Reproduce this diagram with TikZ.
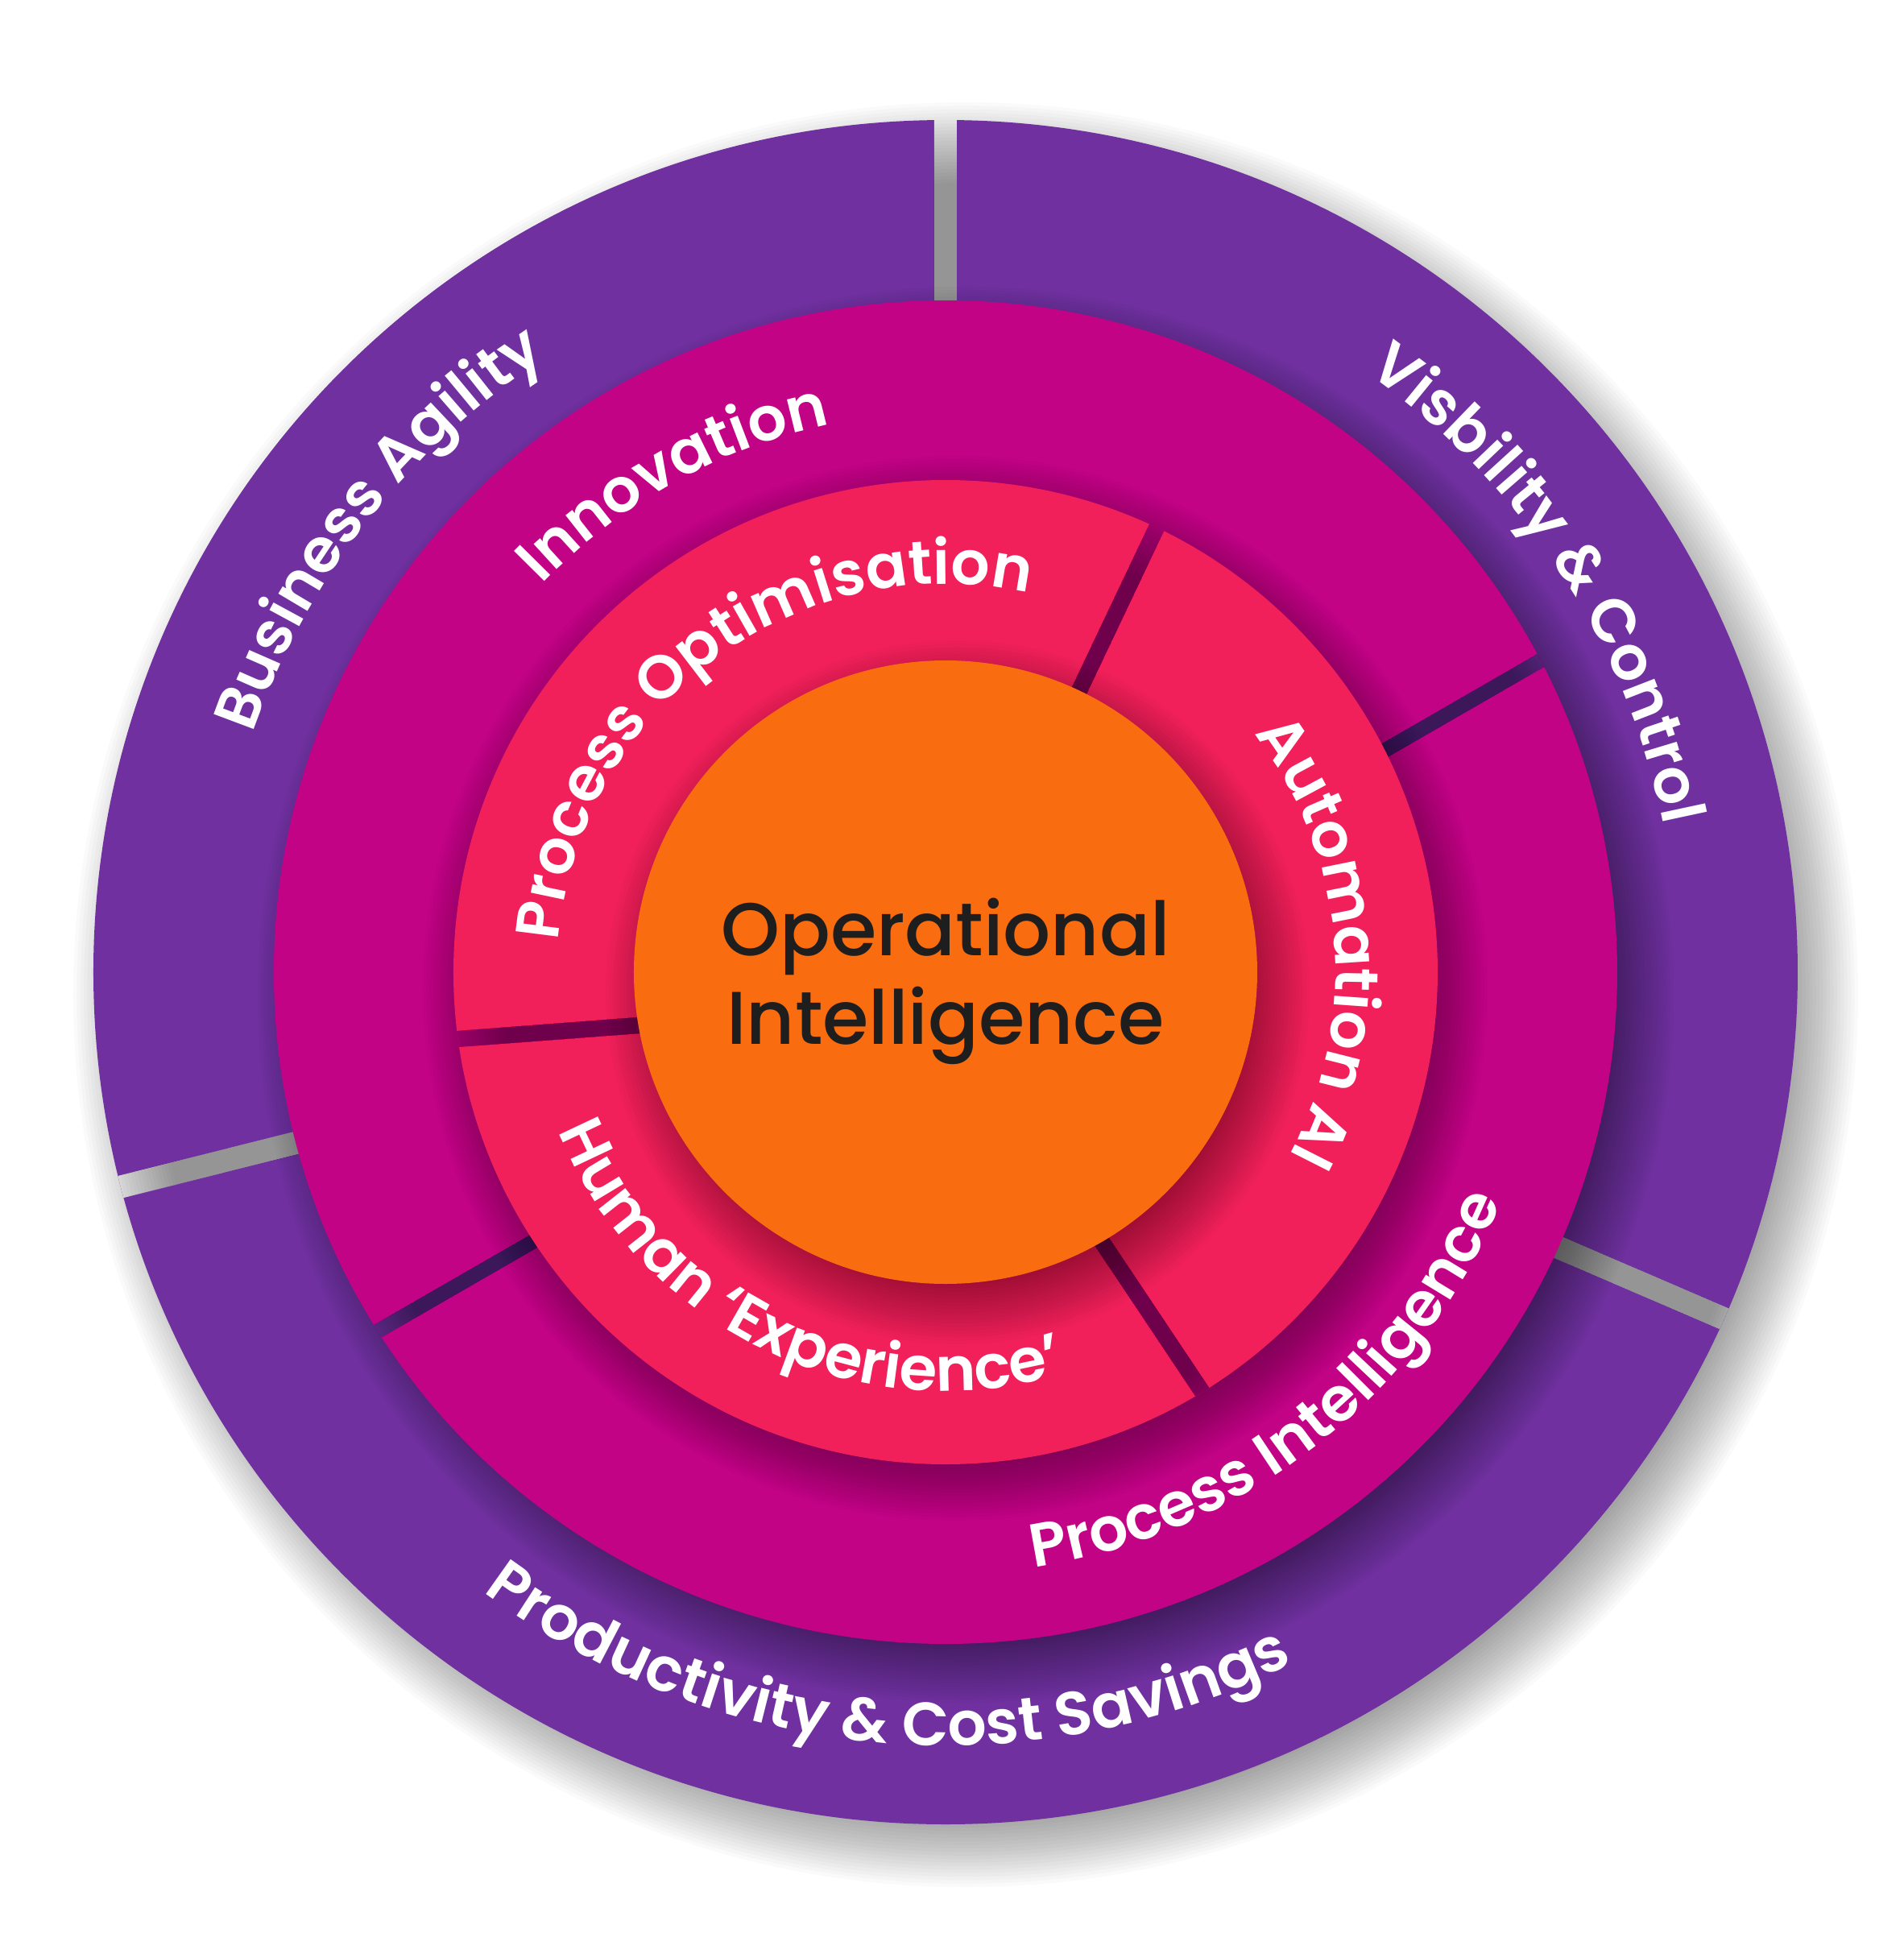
\documentclass[tikz,border=0pt]{standalone}
\usepackage{fontspec}
\setmainfont{Poppins}
\newfontfamily\lblfam{Poppins SemiBold}
\newfontfamily\ctrfam{Poppins Medium}
\usetikzlibrary{decorations.text,calc}
\definecolor{cpurple}{HTML}{7030A0}
\definecolor{cmagenta}{HTML}{C20386}
\definecolor{cred}{HTML}{F2205A}
\definecolor{corange}{HTML}{F96C0F}
\definecolor{cdark}{HTML}{1E1E1E}
\newcommand{\lblfont}{\lblfam\fontsize{21.6}{26}\selectfont}
% soft shadow: radius, xshift, yshift, blur
\newcommand{\softshadow}[4]{%
  \foreach \k in {0,...,23}{\fill[black,opacity=0.02] (#2,#3) circle ({#1-#4/2+#4*\k/23});}}
\newcommand{\bandclip}[3]{\clip ($(#1)!#3!90:(#2)$) -- ($(#2)!#3!-90:(#1)$) -- ($(#2)!#3!90:(#1)$) -- ($(#1)!#3!-90:(#2)$) -- cycle;}
\newcommand{\outershadow}{\softshadow{10.58}{0.25}{-0.28}{1.0}}
\newcommand{\magshadow}{\softshadow{8.34}{0.25}{-0.28}{0.9}}
\newcommand{\redshadow}{\softshadow{6.11}{0.12}{-0.2}{1.0}}
\tikzset{
  ctrtext/.style={font=\ctrfam\fontsize{26.4}{32}\selectfont, text=cdark, anchor=base, inner sep=0pt},
}
\begin{document}
\begin{tikzpicture}
\useasboundingbox (-11.74,-12.19) rectangle (11.90,12.07);
\fill[white] (-11.74,-12.19) rectangle (11.90,12.07);
% band centre lines
\coordinate (o1a) at (0,0);        \coordinate (o1b) at (0,11.5);
\coordinate (o2a) at (0,-0.094);   \coordinate (o2b) at (-12,-3.107);
\coordinate (o3a) at (0,-0.146);   \coordinate (o3b) at (12,-5.306);
\coordinate (m1a) at (-10,-6.158); \coordinate (m1b) at (10,5.376);
\coordinate (r1a) at (0,0);        \coordinate (r1b) at (64.6:7);
\coordinate (r2a) at (0,-0.372);   \coordinate (r2b) at (-7,-0.901);
\coordinate (r3a) at (-0.296,0);   \coordinate (r3b) at (5,-7.923);
% outer ring
\outershadow
\fill[cpurple] (0,0) circle (10.58);
\foreach \a/\b in {o1a/o1b,o2a/o2b,o3a/o3b}{
  \begin{scope}
    \clip (0,0) circle (10.58);
    \bandclip{\a}{\b}{0.14cm}
    \fill[white] (-11,-11) rectangle (11,11);
    \outershadow
  \end{scope}}
% magenta ring
\magshadow
\fill[cmagenta] (0,0) circle (8.34);
\begin{scope}
  \clip (0,0) circle (8.34);
  \bandclip{m1a}{m1b}{0.09cm}
  \fill[cpurple] (-11,-11) rectangle (11,11);
  \magshadow
\end{scope}
% red ring
\redshadow
\fill[cred] (0,0) circle (6.11);
\foreach \a/\b in {r1a/r1b,r2a/r2b,r3a/r3b}{
  \begin{scope}
    \clip (0,0) circle (6.11);
    \bandclip{\a}{\b}{0.10cm}
    \fill[cmagenta] (-11,-11) rectangle (11,11);
    \redshadow
  \end{scope}}
% orange centre
\softshadow{3.87}{0.15}{-0.25}{1.0}
\fill[corange] (0,0) circle (3.87);
% curved labels
\path[decorate, decoration={text along path, text align=center, text={|\lblfont\color{white}|Business Agility}}]
  (202:9.10) arc[start angle=202, end angle=82, radius=9.10];
\path[decorate, decoration={text along path, text align=center, text={|\lblfont\color{white}|Visbility {\&} Control}}]
  (93.2:9.10) arc[start angle=93.2, end angle=-26.8, radius=9.10];
\path[decorate, decoration={text along path, text align=center, text={|\lblfont\color{white}|Productivity {\&} Cost Savings}}]
  (205:9.60) arc[start angle=205, end angle=325, radius=9.60];
\path[decorate, decoration={text along path, text align=center, text={|\lblfont\color{white}|Innovation}}]
  (179:6.95) arc[start angle=179, end angle=59, radius=6.95];
\path[decorate, decoration={text along path, text align=center, text={|\lblfont\color{white}|Process Intelligence}}]
  (248:7.47) arc[start angle=248, end angle=368, radius=7.47];
\path[decorate, decoration={text along path, text align=center, text={|\lblfont\color{white}|Process Optimisation}}]
  (186.5:4.82) arc[start angle=186.5, end angle=66.5, radius=4.82];
\path[decorate, decoration={text along path, text align=center, text={|\lblfont\color{white}|Automation AI}}]
  (64.8:4.84) arc[start angle=64.8, end angle=-55.2, radius=4.84];
\path[decorate, decoration={text along path, text align=center, text={|\lblfont\color{white}|Human ‘Experience’}}]
  (184.5:5.20) arc[start angle=184.5, end angle=304.5, radius=5.20];
% centre text
\node[ctrtext] (op1) at (0,0.21) {Operational};
\node[ctrtext] (op2) at (0,-0.89) {Intelligence};
\end{tikzpicture}
\end{document}
